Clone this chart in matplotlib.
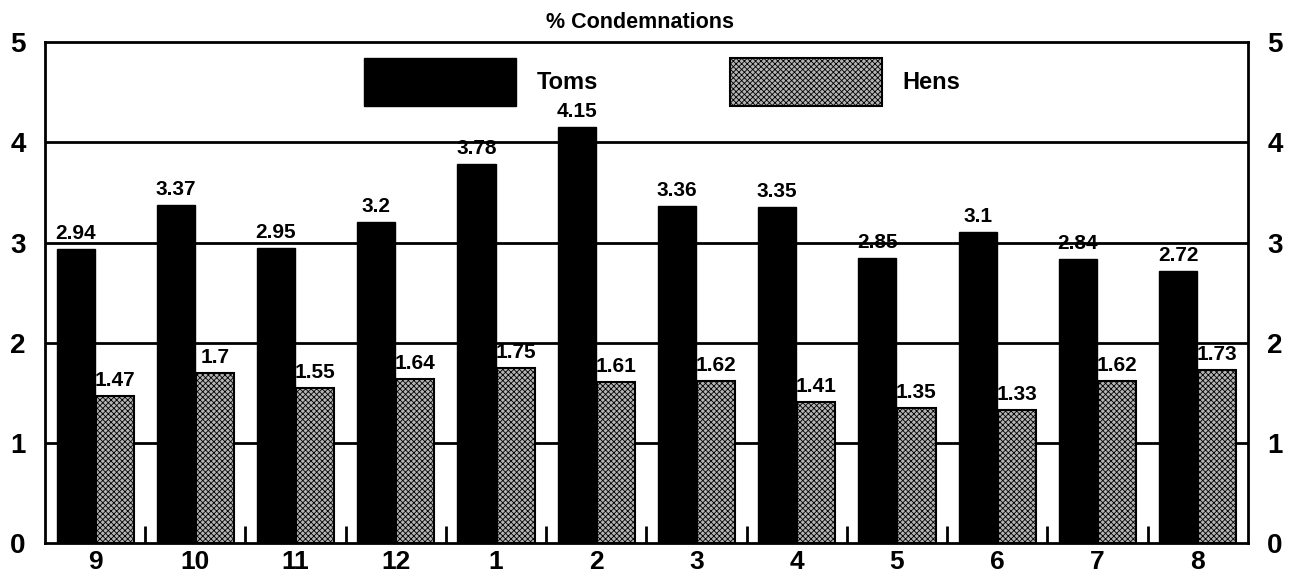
import numpy as np
import matplotlib.pyplot as plt

plt.rcParams['font.family'] = ['Liberation Sans', 'DejaVu Sans']

months = ['9', '10', '11', '12', '1', '2', '3', '4', '5', '6', '7', '8']
toms = [2.94, 3.37, 2.95, 3.2, 3.78, 4.15, 3.36, 3.35, 2.85, 3.1, 2.84, 2.72]
hens = [1.47, 1.7, 1.55, 1.64, 1.75, 1.61, 1.62, 1.41, 1.35, 1.33, 1.62, 1.73]
toms_lbl = ['2.94', '3.37', '2.95', '3.2', '3.78', '4.15', '3.36', '3.35', '2.85', '3.1', '2.84', '2.72']
hens_lbl = ['1.47', '1.7', '1.55', '1.64', '1.75', '1.61', '1.62', '1.41', '1.35', '1.33', '1.62', '1.73']

plt.rcParams['hatch.color'] = '#5a5a5a'
plt.rcParams['hatch.linewidth'] = 0.6

fig = plt.figure(figsize=(12.93, 5.86), dpi=100)
ax = fig.add_axes([0.0348, 0.0734, 0.9302, 0.8546])

x = np.arange(len(months))
w = 0.38
# gridlines under the bars
for yv in [1, 2, 3, 4]:
    ax.axhline(yv, color='black', lw=2, zorder=1)

ax.bar(x - 0.195, toms, w, color='black', edgecolor='black', zorder=2, label='Toms')
ax.bar(x + 0.195, hens, w, color='#b4b4b4', edgecolor='black', lw=1.5,
       hatch='xxxxxx', zorder=2, label='Hens')

for i in range(len(months)):
    ax.text(x[i] - 0.195, toms[i] + 0.06, toms_lbl[i], ha='center', va='bottom',
            fontsize=15, fontweight='bold', zorder=3)
    ax.text(x[i] + 0.195, hens[i] + 0.06, hens_lbl[i], ha='center', va='bottom',
            fontsize=15, fontweight='bold', zorder=3)

ax.set_xlim(-0.5, len(months) - 0.5)
ax.set_ylim(0, 5)
ax.set_xticks(x)
ax.set_xticklabels(months, fontsize=19)
ax.set_xticks(x[:-1] + 0.5, minor=True)
ax.tick_params(axis='x', which='major', length=0, pad=5)
ax.tick_params(axis='x', which='minor', direction='in', length=12, width=2)
ax.set_yticks([0, 1, 2, 3, 4, 5])
ax.tick_params(axis='y', length=0, labelsize=20, pad=14, labelright=True, right=False)
for lab in ax.get_yticklabels() + ax.get_xticklabels():
    lab.set_fontweight('bold')
for s in ax.spines.values():
    s.set_linewidth(2)

ax.legend(loc='upper center', bbox_to_anchor=(0.513, 1.0), ncol=2, frameon=False,
          handlelength=6.44, handleheight=2.79, columnspacing=5.6, handletextpad=0.85,
          prop={'size': 17, 'weight': 'bold'}, borderaxespad=0.25)

fig.text(0.495, 0.962, '% Condemnations', ha='center', va='center',
         fontsize=15.5, fontweight='bold')

fig.savefig('out.png', dpi=100)
